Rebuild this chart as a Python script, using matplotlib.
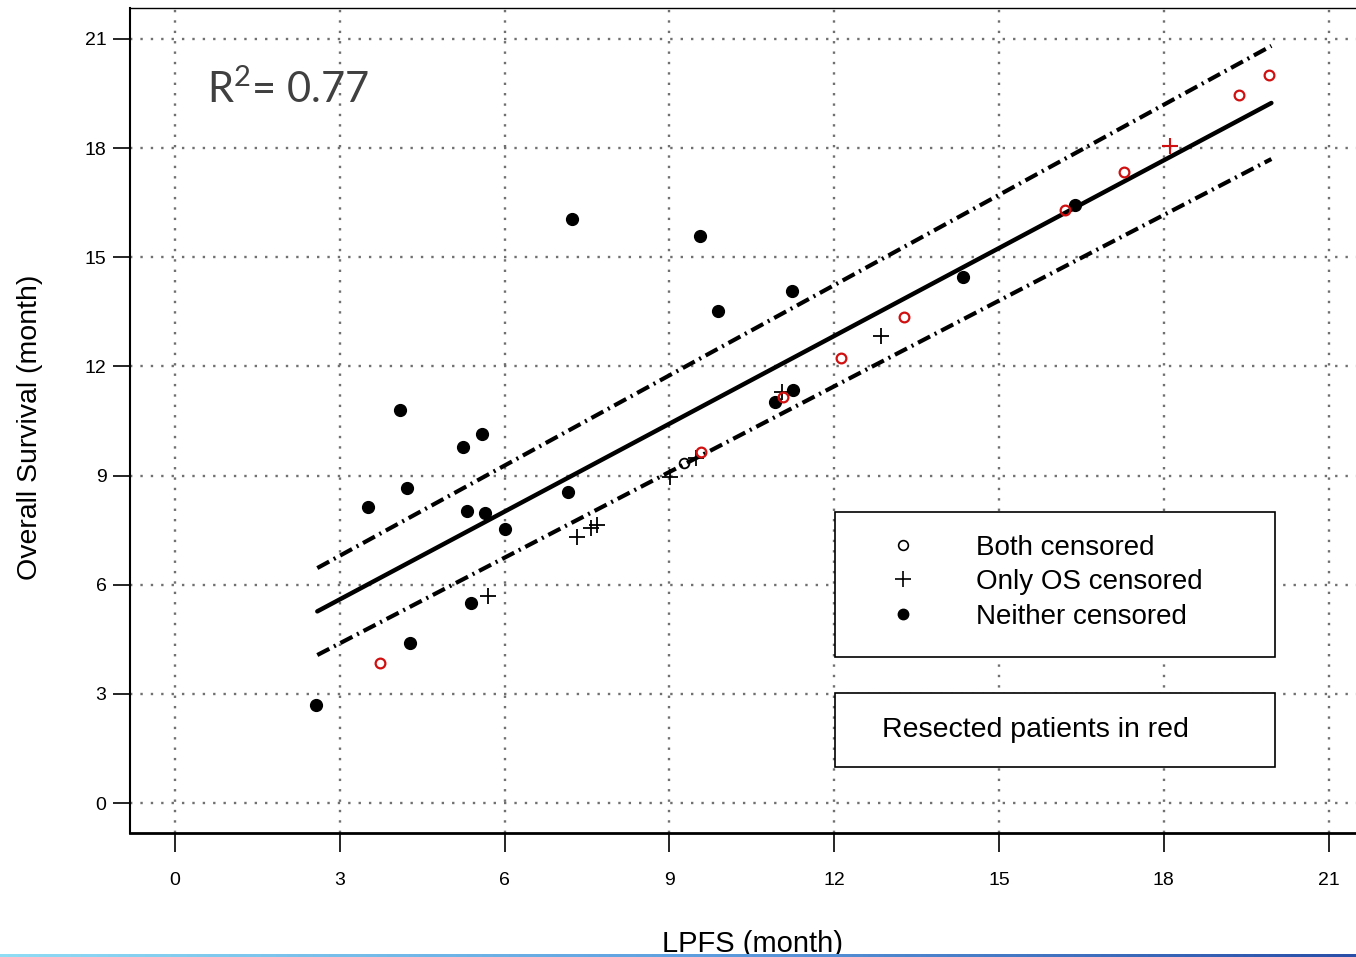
import numpy as np
import matplotlib
matplotlib.use('Agg')
import matplotlib.pyplot as plt
from matplotlib.lines import Line2D
from matplotlib.patches import Rectangle
from matplotlib.colors import LinearSegmentedColormap

plt.rcParams['font.family'] = ['Liberation Sans', 'DejaVu Sans']
plt.rcParams['mathtext.fontset'] = 'custom'
plt.rcParams['mathtext.rm'] = 'Lato'

# neither PFS nor OS censored (black filled)
neither_x = [2.57, 3.52, 4.10, 4.23, 4.27, 5.25, 5.58, 5.31, 5.65, 5.38, 6.00,
             7.15, 7.22, 9.56, 9.88, 11.23, 10.93, 11.25, 14.35, 16.38]
neither_y = [2.69, 8.15, 10.81, 8.67, 4.39, 9.79, 10.15, 8.04, 7.96, 5.49, 7.52,
             8.56, 16.05, 15.58, 13.53, 14.07, 11.02, 11.36, 14.46, 16.43]

# both censored, not resected (black open)
both_x = [9.26]
both_y = [9.36]

# only OS censored, not resected (black plus)
os_x = [5.69, 7.31, 7.57, 7.68, 9.01, 9.48, 11.05, 12.86]
os_y = [5.68, 7.30, 7.57, 7.65, 8.97, 9.49, 11.30, 12.84]

# resected patients: both censored (red open)
res_both_x = [3.74, 9.57, 11.07, 12.13, 13.28, 16.20, 17.27, 19.37, 19.92]
res_both_y = [3.84, 9.66, 11.17, 12.24, 13.36, 16.30, 17.34, 19.45, 20.00]

# resected patients: only OS censored (red plus)
res_os_x = [18.11]
res_os_y = [18.05]

# regression line and band
fit_x = [2.59, 19.96]
fit_y = [5.27, 19.24]
upper_y = [6.46, 20.81]
lower_y = [4.07, 17.70]

ticks = [0, 3, 6, 9, 12, 15, 18, 21]

fig = plt.figure(figsize=(13.56, 9.57), dpi=100)
ax = fig.add_axes([130/1356, 124/957, 1 - 130/1356 + 0.002, 825/957])

ax.set_xlim(-0.82, 21.55)
ax.set_ylim(-0.82, 21.85)

for t in ticks:
    ax.axvline(t, color='#707070', lw=1.7, ls=(0, (1, 3.4)), zorder=0)
    ax.axhline(t, color='#707070', lw=1.7, ls=(0, (1, 3.4)), zorder=0)

ax.plot(fit_x, fit_y, color='black', lw=3.2, solid_capstyle='round', zorder=2)
band = (0, (3.25, 1.25, 0.5, 1.25))
ax.plot(fit_x, upper_y, color='black', lw=3, ls=band, zorder=2)
ax.plot(fit_x, lower_y, color='black', lw=3, ls=band, zorder=2)

ax.plot(neither_x, neither_y, 'o', color='black', ms=8.5, zorder=3)
ax.plot(both_x, both_y, 'o', mfc='none', mec='black', ms=7, mew=1.3, zorder=3)
ax.plot(os_x, os_y, '+', color='black', ms=12, mew=1.3, zorder=3)
ax.plot(res_both_x, res_both_y, 'o', mfc='none', mec='#d01010', ms=7, mew=1.6, zorder=4)
ax.plot(res_os_x, res_os_y, '+', color='#d01010', ms=12, mew=1.5, zorder=4)

ax.set_xticks(ticks)
ax.set_yticks(ticks)
ax.tick_params(axis='x', length=14, width=1.2, pad=14, labelsize=14)
ax.tick_params(axis='y', length=12, width=1.2, pad=5, labelsize=14)
ax.spines['right'].set_visible(False)
ax.spines['top'].set_linewidth(1.0)
ax.spines['left'].set_linewidth(1.5)
ax.spines['bottom'].set_linewidth(2.0)

ax.set_xlabel('LPFS (month)', fontsize=21)
ax.xaxis.set_label_coords(0.5065, -0.117)
ax.set_ylabel('Overall Survival (month)', fontsize=20.5)
ax.yaxis.set_label_coords(-0.071, 0.492)

ax.text(0.0628, 0.902, r'R$^{2}$= 0.77', transform=ax.transAxes, fontsize=30,
        family=['Lato', 'DejaVu Sans'], color='#404040', va='center', ha='left')

# legend boxes
ax.add_patch(Rectangle((0.574, 0.2133), 0.932 - 0.574, 0.389 - 0.2133,
                       transform=ax.transAxes, fc='white', ec='black', lw=1.2, zorder=5))
ax.add_patch(Rectangle((0.574, 0.080), 0.932 - 0.574, 0.1697 - 0.080,
                       transform=ax.transAxes, fc='white', ec='black', lw=1.2, zorder=5))

handles = [
    Line2D([], [], ls='none', marker='o', mfc='none', mec='black', ms=7, mew=1.2),
    Line2D([], [], ls='none', marker='+', color='black', ms=12, mew=1.2),
    Line2D([], [], ls='none', marker='o', color='black', ms=7.5),
]
labels = ['Both censored', 'Only OS censored', 'Neither censored']
leg = ax.legend(handles, labels, frameon=False, loc='center left',
                bbox_to_anchor=(0.6188, 0.304), borderpad=0, borderaxespad=0,
                handlelength=0.9, handletextpad=2.2, labelspacing=0.3, fontsize=20)
leg.set_zorder(6)

ax.text(0.7365, (0.080 + 0.1697) / 2, 'Resected patients in red',
        transform=ax.transAxes, ha='center', va='center', fontsize=20.5, zorder=6)

# thin gradient strip at the bottom
strip = fig.add_axes([0, 0, 1, 3/957])
cmap = LinearSegmentedColormap.from_list('strip', ['#8fdcf5', '#5fa0e0', '#2a4fa8'])
strip.imshow(np.linspace(0, 1, 256)[None, :], aspect='auto', cmap=cmap)
strip.axis('off')

fig.savefig('out.png', dpi=100)
